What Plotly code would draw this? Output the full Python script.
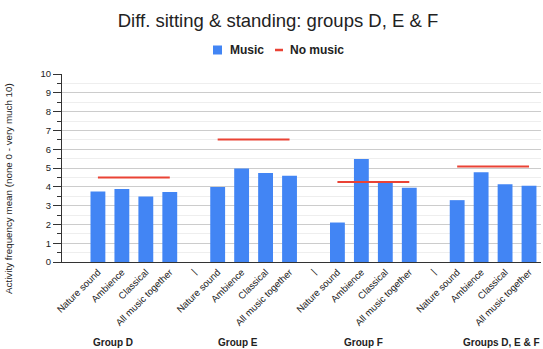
import plotly.graph_objects as go

# Slot labels along the x axis (blank lead-in slot, "|" separators between groups)
tick_labels = ["",
               "Nature sound", "Ambience", "Classical", "All music together", "|",
               "Nature sound", "Ambience", "Classical", "All music together", "|",
               "Nature sound", "Ambience", "Classical", "All music together", "|",
               "Nature sound", "Ambience", "Classical", "All music together"]

group_names = ["Group D", "Group E", "Group F", "Groups D, E & F"]

# Mean activity frequency per slot (None = empty slot)
music = [None,
         3.75, 3.88, 3.49, 3.72, None,
         3.99, 4.97, 4.73, 4.59, None,
         2.10, 5.48, 4.23, 3.95, None,
         3.29, 4.77, 4.13, 4.06]

no_music = [None,
            4.50, 4.50, 4.50, 4.50, None,
            6.51, 6.51, 6.51, 6.51, None,
            4.25, 4.25, 4.25, 4.25, None,
            5.08, 5.08, 5.08, 5.08]

series_names = ["Music", "No music"]
series_colors = ["#4285F4", "#EA4335"]
y_title = "Activity frequency mean (none 0 - very much 10)"

xs = list(range(len(tick_labels)))
group_label_x = [1.65, 6.83, 12.1, 17.85]

W, H = 543, 349
ML, MR, MT, MB = 62, 2, 74, 87
PW, PH = W - ML - MR, H - MT - MB


def px_x(p):
    return (p - ML) / PW


def px_y(p):
    return (H - MB - p) / PH


fig = go.Figure()
fig.add_trace(go.Bar(x=xs, y=music, name=series_names[0], width=0.62,
                     marker=dict(color=series_colors[0], line=dict(width=0))))
fig.add_trace(go.Scatter(x=xs, y=no_music, name=series_names[1], mode="lines",
                         line=dict(color=series_colors[1], width=2), connectgaps=False))

# group captions beneath the rotated tick labels
for gx, name in zip(group_label_x, group_names):
    fig.add_annotation(x=gx, xref="x", y=px_y(342), yref="paper",
                       text="<b>%s</b>" % name, showarrow=False,
                       xanchor="center", yanchor="middle",
                       font=dict(size=10, color="#222222"))

# vertical y-axis caption, centred on the whole chart body
fig.add_annotation(x=px_x(8), y=px_y(189), xref="paper", yref="paper",
                   text=y_title, textangle=-90, showarrow=False,
                   xanchor="center", yanchor="middle",
                   font=dict(size=9.8, color="#222222"))

# compact legend row
ly = px_y(50)
fig.add_shape(type="rect", xref="paper", yref="paper",
              x0=px_x(213), x1=px_x(222), y0=px_y(54.5), y1=px_y(45.5),
              fillcolor=series_colors[0], line=dict(width=0))
fig.add_annotation(x=px_x(228), y=ly, xref="paper", yref="paper",
                   text="<b>%s</b>" % series_names[0], showarrow=False,
                   xanchor="left", yanchor="middle",
                   font=dict(size=12, color="#222222"))
fig.add_shape(type="line", xref="paper", yref="paper",
              x0=px_x(275), x1=px_x(283), y0=ly, y1=ly,
              line=dict(color=series_colors[1], width=2.5))
fig.add_annotation(x=px_x(288), y=ly, xref="paper", yref="paper",
                   text="<b>%s</b>" % series_names[1], showarrow=False,
                   xanchor="left", yanchor="middle",
                   font=dict(size=12, color="#222222"))

fig.update_layout(
    width=W, height=H,
    margin=dict(l=ML, r=MR, t=MT, b=MB),
    paper_bgcolor="white", plot_bgcolor="white",
    font=dict(family="Liberation Sans, Arial, sans-serif", color="#222222"),
    title=dict(text="Diff. sitting & standing: groups D, E & F",
               x=278 / W, xref="container", xanchor="center",
               y=1 - 21 / H, yanchor="middle",
               font=dict(size=18.5, color="#222222")),
    showlegend=False,
)
fig.update_xaxes(range=[-0.5, 19.5], tickmode="array", tickvals=xs, ticktext=tick_labels,
                 tickangle=-45, tickfont=dict(size=9.5, color="#222222"),
                 showgrid=False, showline=True, linecolor="#333333", linewidth=1,
                 ticks="", zeroline=False)
fig.update_yaxes(range=[0, 10], dtick=1, tickfont=dict(size=9.5, color="#222222"),
                 showgrid=True, gridcolor="#cccccc", gridwidth=1,
                 minor=dict(dtick=0.5, showgrid=True, gridcolor="#eeeeee",
                            ticks="outside", ticklen=4, tickcolor="#333333"),
                 ticks="outside", ticklen=8, tickcolor="#333333",
                 showline=True, linecolor="#333333", linewidth=1, zeroline=False)

fig.write_html("out.html")
